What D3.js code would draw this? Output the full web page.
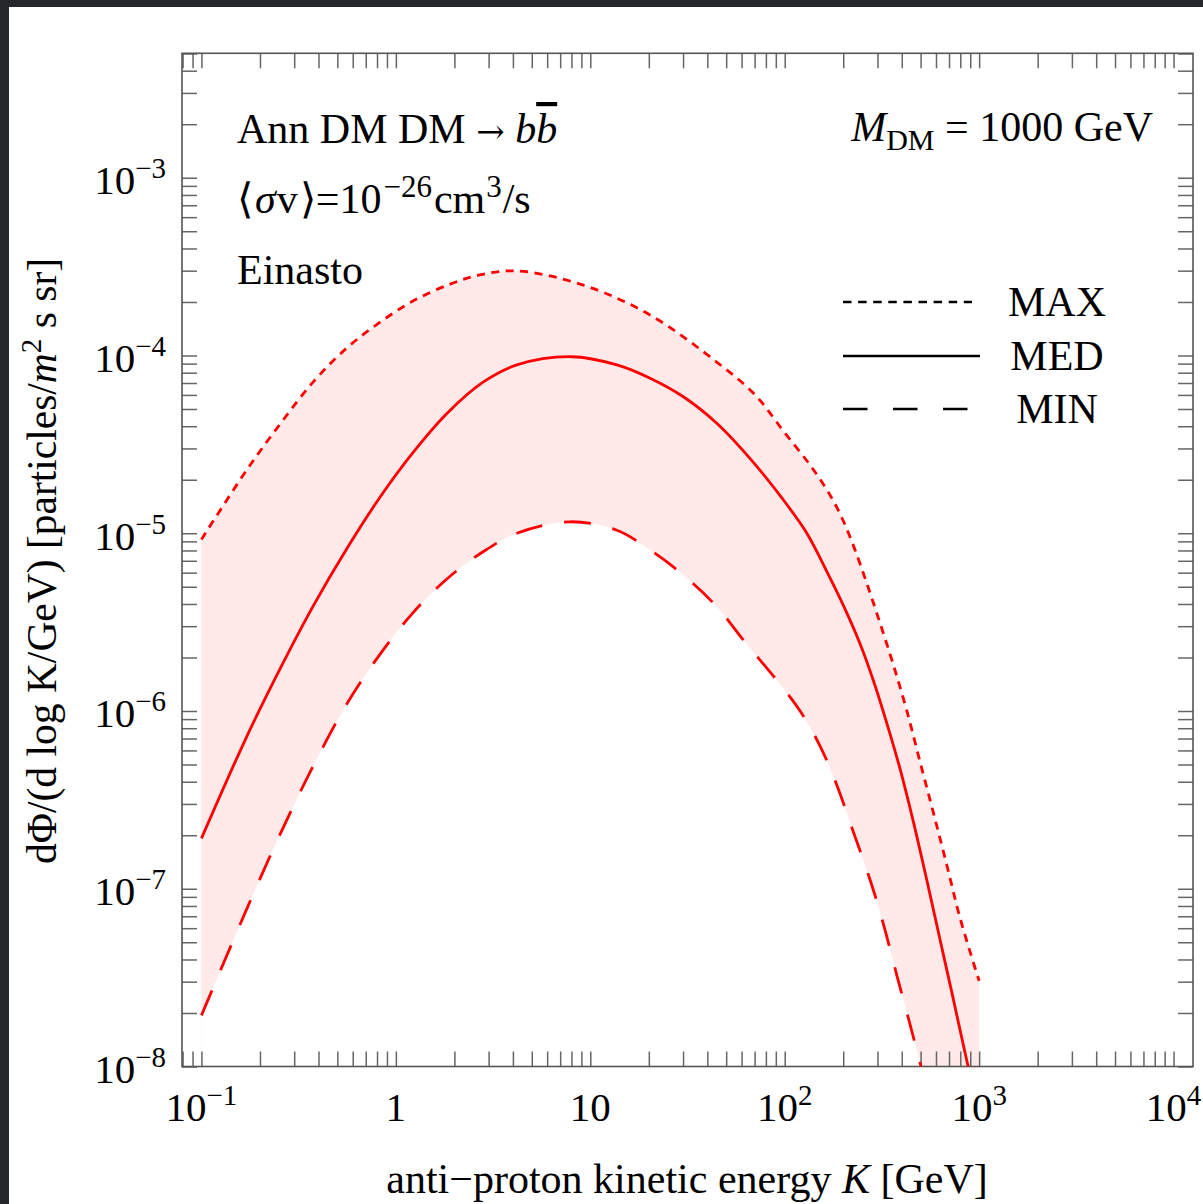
<!DOCTYPE html>
<html>
<head>
<meta charset="utf-8">
<script src="https://cdn.jsdelivr.net/npm/d3@7"></script>
<style>
  html, body { margin: 0; padding: 0; background: #24282c; }
  svg { display: block; }
  text { font-family: "Liberation Serif", "Times New Roman", serif; fill: #000; }
</style>
</head>
<body>
<svg id="chart" width="1203" height="1204"></svg>
<script>
// ---------- data ----------
const maxEnergy = [0.1, 0.171, 0.254, 0.376, 0.558, 0.83, 1.23, 1.9, 2.71, 4.19, 9.2, 20.3, 44.7, 70.5, 98.4, 135, 164, 193, 225, 264, 309, 362, 425, 497, 582, 682, 798, 1000];
const maxFlux   = [9.23e-6, 2.27e-5, 4.12e-5, 7.10e-5, 1.10e-4, 1.54e-4, 2.03e-4, 2.52e-4, 2.84e-4, 2.99e-4, 2.49e-4, 1.69e-4, 9.18e-5, 6.00e-5, 3.76e-5, 2.42e-5, 1.77e-5, 1.28e-5, 8.59e-6, 5.25e-6, 3.13e-6, 1.82e-6, 1.0e-6, 5.16e-7, 2.67e-7, 1.36e-7, 6.84e-8, 3.03e-8];

const medEnergy = [0.1, 0.171, 0.254, 0.376, 0.558, 0.83, 1.23, 1.83, 2.82, 4.19, 8.04, 13.7, 20.3, 30.1, 44.7, 66.4, 98.4, 130, 164, 200, 244, 286, 335, 392, 459, 538, 630, 738, 867, 1000];
const medFlux   = [1.92e-7, 7.18e-7, 1.73e-6, 3.90e-6, 8.15e-6, 1.60e-5, 2.86e-5, 4.72e-5, 7.10e-5, 8.85e-5, 9.84e-5, 8.85e-5, 7.45e-5, 5.86e-5, 4.16e-5, 2.63e-5, 1.54e-5, 1.0e-5, 6.14e-6, 3.94e-6, 2.39e-6, 1.48e-6, 8.55e-7, 4.72e-7, 2.38e-7, 1.12e-7, 5.15e-8, 2.37e-8, 1.06e-8, 5.5e-9];

const minEnergy = [0.1, 0.171, 0.254, 0.376, 0.558, 0.83, 1.23, 1.83, 2.82, 4.19, 7.87, 13.7, 20.3, 30.1, 44.7, 61.2, 91, 120, 152, 185, 225, 275, 322, 377, 442, 516, 1000];
const minFlux   = [1.94e-8, 7.69e-8, 2.03e-7, 4.91e-7, 1.09e-6, 2.09e-6, 3.59e-6, 5.53e-6, 7.89e-6, 1.0e-5, 1.16e-5, 1.04e-5, 8.05e-6, 5.82e-6, 3.86e-6, 2.51e-6, 1.49e-6, 1.0e-6, 6.35e-7, 3.85e-7, 2.10e-7, 1.12e-7, 6.31e-8, 3.27e-8, 1.71e-8, 8.96e-9, 6.3e-10];

const xMajorTicks = [0.1, 1, 10, 100, 1000, 10000];
const xTickLabels = [["10", "−1"], ["1", ""], ["10", ""], ["10", "2"], ["10", "3"], ["10", "4"]];
const yMajorTicks = [1e-8, 1e-7, 1e-6, 1e-5, 1e-4, 1e-3];
const yTickLabels = [["10", "−8"], ["10", "−7"], ["10", "−6"], ["10", "−5"], ["10", "−4"], ["10", "−3"]];
const legendNames = ["MAX", "MED", "MIN"];

// ---------- layout ----------
const svg = d3.select("#chart");
const W = 1203, H = 1204;
const plot = { left: 182, right: 1193, top: 53.3, bottom: 1066.5 };

svg.append("rect").attr("x", 9).attr("y", 7).attr("width", W - 9).attr("height", H - 7).attr("fill", "#fff");

const x = d3.scaleLog().domain([Math.pow(10, -1.1), Math.pow(10, 4.1)]).range([plot.left, plot.right]);
const y = d3.scaleLog().domain([1e-8, Math.pow(10, -2.3)]).range([plot.bottom, plot.top]);

svg.append("clipPath").attr("id", "clip")
  .append("rect").attr("x", plot.left).attr("y", plot.top)
  .attr("width", plot.right - plot.left).attr("height", plot.bottom - plot.top);

const zip = (ks, vs) => ks.map((k, i) => ({ k, v: vs[i] }));
const maxData = zip(maxEnergy, maxFlux);
const medData = zip(medEnergy, medFlux);
const minData = zip(minEnergy, minFlux);

const g = svg.append("g").attr("clip-path", "url(#clip)");
const curve = d3.curveCatmullRom.alpha(0.5);

// band: area under MAX in pink, then area under MIN in white
const areaBelow = d3.area().x(d => x(d.k)).y1(d => y(d.v)).y0(plot.bottom + 300).curve(curve);
g.append("path").datum(maxData).attr("d", areaBelow).attr("fill", "#ffe9e9");
g.append("path").datum(minData).attr("d", areaBelow).attr("fill", "#fff");

// ---------- ticks ----------
function minorTicks(lo, hi) {
  const out = [];
  for (let e = -10; e <= 5; e++) for (let m = 1; m <= 9; m++) {
    const v = m * Math.pow(10, e);
    if (v >= lo * 0.9999 && v <= hi * 1.0001) out.push(v);
  }
  return out;
}
const xt = minorTicks(x.domain()[0], x.domain()[1]);
const yt = minorTicks(y.domain()[0], y.domain()[1]);
const tickLen = 15;
const styleAxis = sel => {
  sel.select(".domain").remove();
  sel.selectAll(".tick line").attr("stroke", "#666").attr("stroke-width", 1.5);
};
svg.append("g").attr("transform", `translate(0,${plot.bottom})`)
  .call(d3.axisBottom(x).tickValues(xt).tickSize(-tickLen).tickFormat("")).call(styleAxis);
svg.append("g").attr("transform", `translate(0,${plot.top})`)
  .call(d3.axisTop(x).tickValues(xt).tickSize(-tickLen).tickFormat("")).call(styleAxis);
svg.append("g").attr("transform", `translate(${plot.left},0)`)
  .call(d3.axisLeft(y).tickValues(yt).tickSize(-tickLen).tickFormat("")).call(styleAxis);
svg.append("g").attr("transform", `translate(${plot.right},0)`)
  .call(d3.axisRight(y).tickValues(yt).tickSize(-tickLen).tickFormat("")).call(styleAxis);

// frame
svg.append("rect").attr("x", plot.left).attr("y", plot.top)
  .attr("width", plot.right - plot.left).attr("height", plot.bottom - plot.top)
  .attr("fill", "none").attr("stroke", "#555").attr("stroke-width", 1.6);

// ---------- curves ----------
const line = d3.line().x(d => x(d.k)).y(d => y(d.v)).curve(curve);
const g2 = svg.append("g").attr("clip-path", "url(#clip)");
g2.append("path").datum(maxData).attr("d", line).attr("fill", "none")
  .attr("stroke", "#ff0000").attr("stroke-width", 2.8).attr("stroke-dasharray", "8,6.5");
g2.append("path").datum(medData).attr("d", line).attr("fill", "none")
  .attr("stroke", "#ff0000").attr("stroke-width", 2.8);
g2.append("path").datum(minData).attr("d", line).attr("fill", "none")
  .attr("stroke", "#ff0000").attr("stroke-width", 2.8).attr("stroke-dasharray", "27,22");

// ---------- tick labels ----------
const FS = 41, SFS = 29, SUP = 16;
xMajorTicks.forEach((v, i) => {
  const t = svg.append("text").attr("x", x(v)).attr("y", 1121).attr("text-anchor", "middle").attr("font-size", FS);
  t.append("tspan").text(xTickLabels[i][0]);
  if (xTickLabels[i][1]) t.append("tspan").attr("dy", -SUP).attr("font-size", SFS).text(xTickLabels[i][1]);
});
yMajorTicks.forEach((v, i) => {
  const t = svg.append("text").attr("x", 166).attr("y", y(v) + 16.5).attr("text-anchor", "end").attr("font-size", FS);
  t.append("tspan").text(yTickLabels[i][0]);
  t.append("tspan").attr("dy", -SUP).attr("font-size", SFS).text(yTickLabels[i][1]);
});

// ---------- axis titles ----------
const xt1 = svg.append("text").attr("x", 687).attr("y", 1193).attr("text-anchor", "middle").attr("font-size", 42);
xt1.append("tspan").text("anti−proton kinetic energy ");
xt1.append("tspan").attr("font-style", "italic").text("K");
xt1.append("tspan").text(" [GeV]");

const yt1 = svg.append("text").attr("transform", "translate(56,561) rotate(-90)").attr("text-anchor", "middle").attr("font-size", 41.5);
yt1.append("tspan").text("dΦ/(d log K/GeV) [particles/");
yt1.append("tspan").attr("font-style", "italic").text("m");
yt1.append("tspan").attr("dy", -15).attr("font-size", 29).text("2");
yt1.append("tspan").attr("dy", 15).text(" s sr]");

// ---------- annotations ----------
const AFS = 42, ASFS = 30;
const a1 = svg.append("text").attr("x", 237).attr("y", 143).attr("font-size", AFS);
a1.append("tspan").text("Ann DM DM ");
a1.append("tspan").style("font-family", "'DejaVu Serif'").attr("font-size", 34).text("→");
a1.append("tspan").text(" ");
a1.append("tspan").attr("font-style", "italic").text("b");
a1.append("tspan").attr("font-style", "italic")
  .style("text-decoration", "overline").style("text-decoration-thickness", "2px").text("b");

const a2 = svg.append("text").attr("x", 1153).attr("y", 141).attr("text-anchor", "end").attr("font-size", AFS);
a2.append("tspan").attr("font-style", "italic").text("M");
a2.append("tspan").attr("dy", 9).attr("font-size", ASFS).text("DM");
a2.append("tspan").attr("dy", -9).text(" = 1000 GeV");

const a3 = svg.append("text").attr("x", 237).attr("y", 213).attr("font-size", AFS);
a3.append("tspan").text("⟨");
a3.append("tspan").attr("dx", 2).attr("font-style", "italic").text("σ");
a3.append("tspan").attr("dx", 1).text("v");
a3.append("tspan").attr("dx", 2).text("⟩=10");
a3.append("tspan").attr("dx", 2).attr("dy", -SUP).attr("font-size", 31).text("−26");
a3.append("tspan").attr("dx", 2).attr("dy", SUP).text("cm");
a3.append("tspan").attr("dx", 1).attr("dy", -SUP).attr("font-size", 31).text("3");
a3.append("tspan").attr("dx", 1).attr("dy", SUP).text("/s");

svg.append("text").attr("x", 237).attr("y", 284).attr("font-size", AFS).text("Einasto");

// ---------- legend ----------
const legendDash = ["8.5,6.6", null, "24.5,25.5"];
const legendY = [302, 356, 409];
const legendEnd = [972, 980, 969];
legendNames.forEach((name, i) => {
  const l = svg.append("line").attr("x1", 843).attr("x2", legendEnd[i]).attr("y1", legendY[i]).attr("y2", legendY[i])
    .attr("stroke", "#000").attr("stroke-width", 2.6);
  if (legendDash[i]) l.attr("stroke-dasharray", legendDash[i]);
  svg.append("text").attr("x", 1057).attr("y", legendY[i] + 14).attr("text-anchor", "middle").attr("font-size", AFS).text(name);
});
</script>
</body>
</html>
